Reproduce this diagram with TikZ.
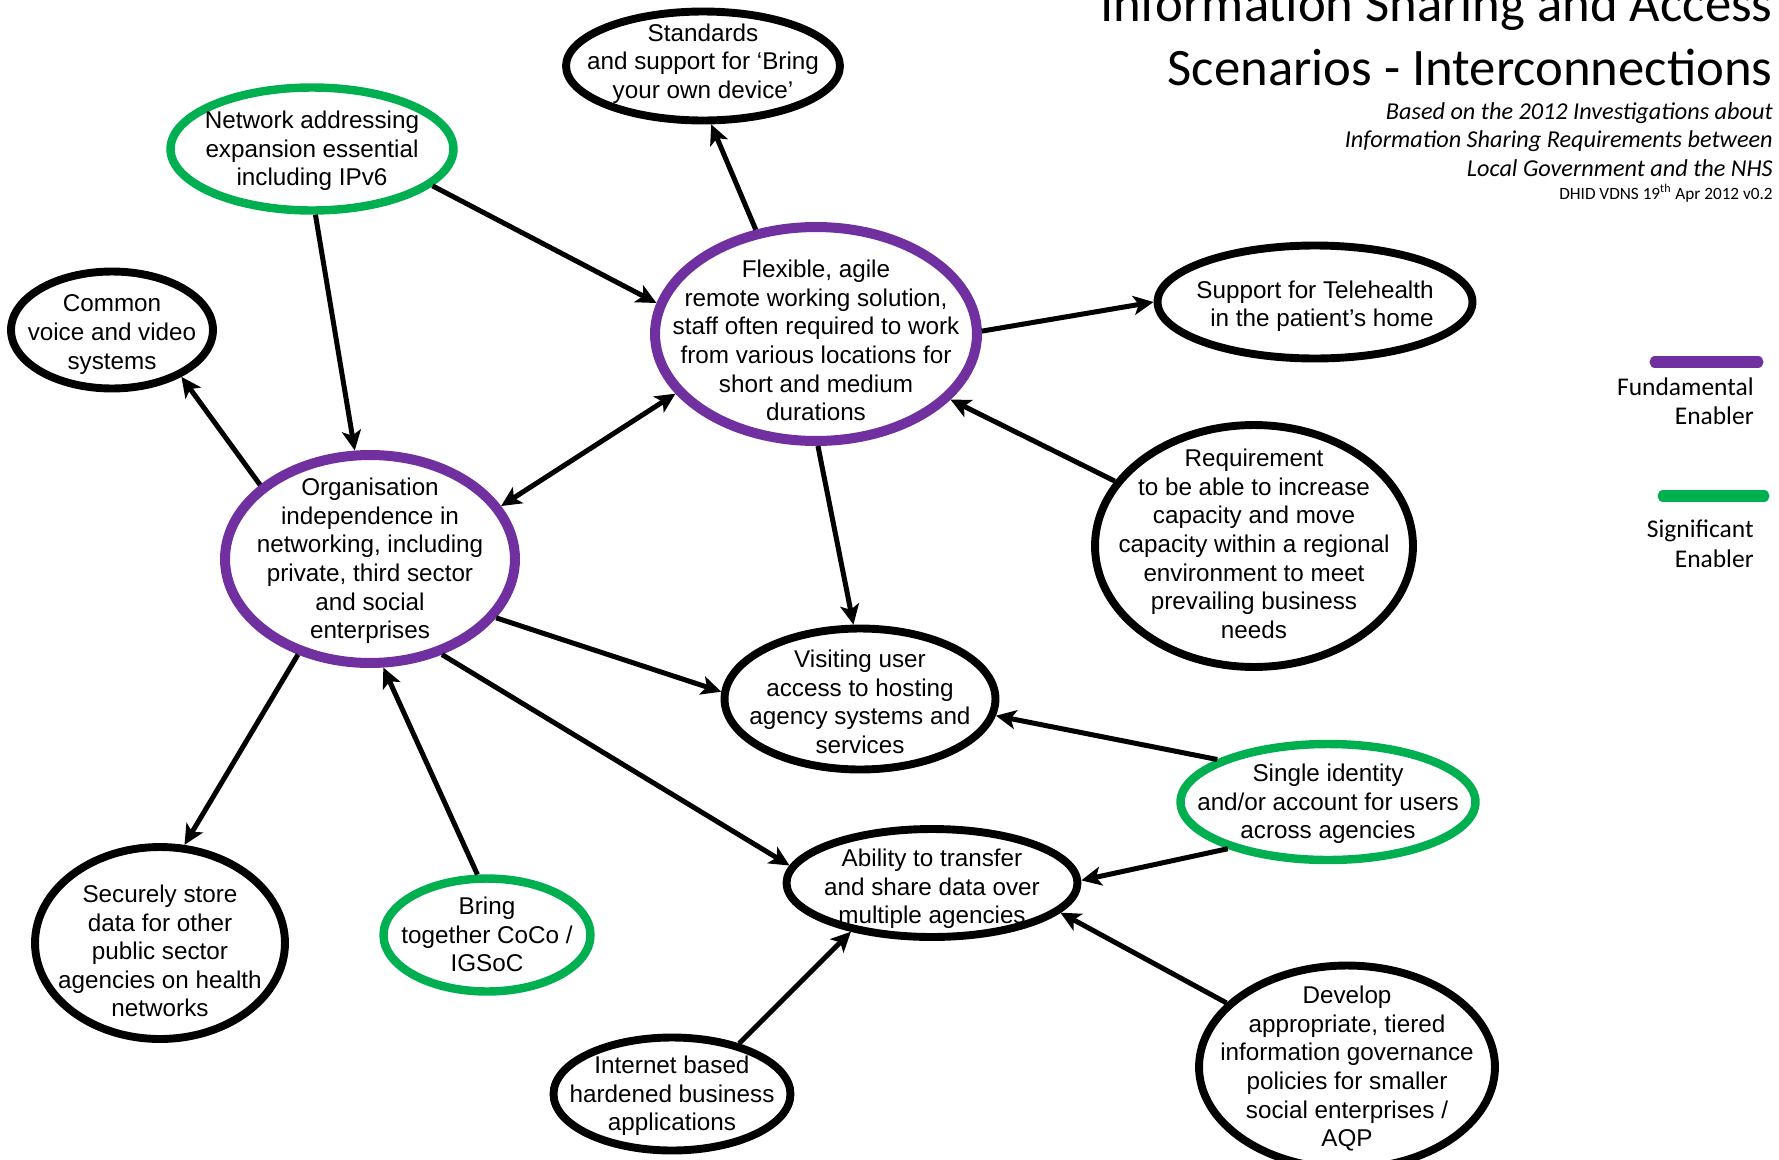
\documentclass[tikz,border=0pt]{standalone}
\usepackage{fontspec}
\setmainfont{Liberation Sans}
\newfontfamily\titlefont{Carlito}
\usepackage{xcolor}
\usetikzlibrary{shapes.geometric}
\usetikzlibrary{arrows.meta}
\definecolor{fundPurple}{HTML}{7030A0}
\definecolor{sigGreen}{HTML}{00B050}
\tikzstyle{nodeBlack}  =[ellipse, draw=black, line width=4.5pt, inner sep=0pt, font=\fontsize{13.8}{16.3}\selectfont]
\tikzstyle{nodePurple} =[nodeBlack, draw=fundPurple, line width=5.7pt]
\tikzstyle{nodeGreen}  =[nodeBlack, draw=sigGreen, line width=4.8pt]
\tikzstyle{edgeBlack}  =[line width=2.85pt, ->]
\tikzstyle{legendText} =[font=\titlefont\fontsize{14.5}{16.8}\selectfont, align=right, inner sep=0pt, anchor=north east]
% text of an ellipse, kept out of the size of the ellipse (optional: lower it a bit)
\newcommand{\ctext}[2][0pt]{\raisebox{\dimexpr-0.25em-1.6pt-#1\relax}[0pt][0pt]{\makebox[0pt]{\begin{tabular}{@{}c@{}}#2\end{tabular}}}}

\begin{document}
\begin{tikzpicture}[x=0.02cm, y=-0.02cm, >={Stealth[length=11.4pt, width=10.8pt, inset=2.8pt]}]
      \useasboundingbox (0,0) rectangle (1779,1160);
      % title
      \node[font=\titlefont\fontsize{30}{36.4}\selectfont, align=right, inner sep=0pt, anchor=north east] (title) at (1773,-15) {Information Sharing and Access\\Scenarios - Interconnections};
      \node[font=\titlefont\itshape\fontsize{13.8}{16.2}\selectfont, align=right, inner sep=0pt, anchor=north east] (sub) at (1773,102) {Based on the 2012 Investigations about\\Information Sharing Requirements between\\Local Government and the NHS};
      \node[font=\titlefont\fontsize{9.8}{12}\selectfont, inner sep=0pt, anchor=base east] (ver) at (1773,199) {DHID VDNS 19\textsuperscript{th} Apr 2012 v0.2};
      % legend
      \draw[fundPurple, line width=6.3pt, line cap=round] (1655,362) -- (1758,362);
      \node[legendText] (fund) at (1754,377) {Fundamental\\Enabler};
      \draw[sigGreen, line width=6.3pt, line cap=round] (1663,496) -- (1764,496);
      \node[legendText] (sig) at (1754,520) {Significant\\Enabler};
      % scenarios
      \node[nodeBlack]  (std)    [minimum width=5.48cm, minimum height=2.18cm] at (703,66)   {\ctext[-2.6pt]{Standards\\and support for ‘Bring\\your own device’}};
      \node[nodeGreen]  (net)    [minimum width=5.66cm, minimum height=2.46cm] at (312,149)  {\ctext{Network addressing\\expansion essential\\including IPv6}};
      \node[nodeBlack]  (com)    [minimum width=4.04cm, minimum height=2.34cm] at (112,330)  {\ctext[1.3pt]{Common\\voice and video\\systems}};
      \node[nodePurple] (flex)   [minimum width=6.44cm, minimum height=4.28cm] at (816,334)  {\ctext[3.9pt]{Flexible, agile\\remote working solution,\\staff often required to work\\from various locations for\\short and medium\\durations}};
      \node[nodeBlack]  (tele)   [minimum width=6.3cm,  minimum height=2.26cm] at (1315,302) {\ctext[1.3pt]{Support for Telehealth\\\hfill in the patient’s home}};
      \node[nodePurple] (org)    [minimum width=5.8cm,  minimum height=4.16cm] at (370,559)  {\ctext{Organisation\\independence in\\networking, including\\private, third sector\\and social\\enterprises}};
      \node[nodeBlack]  (req)    [minimum width=6.36cm, minimum height=4.84cm] at (1254,546) {\ctext[-1pt]{Requirement\\to be able to increase\\capacity and move\\capacity within a regional\\environment to meet\\prevailing business\\needs}};
      \node[nodeBlack]  (vis)    [minimum width=5.42cm, minimum height=2.82cm] at (860,699)  {\ctext[1.9pt]{Visiting user\\access to hosting\\agency systems and\\services}};
      \node[nodeGreen]  (single) [minimum width=5.9cm,  minimum height=2.32cm] at (1328,802) {\ctext{Single identity\\and/or account for users\\across agencies}};
      \node[nodeBlack]  (abil)   [minimum width=5.82cm, minimum height=2.16cm] at (932,883)  {\ctext[2.3pt]{Ability to transfer\\and share data over\\multiple agencies}};
      \node[nodeBlack]  (sec)    [minimum width=5cm,    minimum height=3.84cm] at (160,943)  {\ctext[4.8pt]{Securely store\\data for other\\public sector\\agencies on health\\networks}};
      \node[nodeGreen]  (bring)  [minimum width=4.14cm, minimum height=2.26cm] at (487,935)  {\ctext{Bring\\together CoCo /\\IGSoC}};
      \node[nodeBlack]  (inet)   [minimum width=4.74cm, minimum height=2.26cm] at (672,1094) {\ctext{Internet based\\hardened business\\applications}};
      \node[nodeBlack]  (dev)    [minimum width=5.92cm, minimum height=4.06cm] at (1347,1067) {\ctext{Develop\\appropriate, tiered\\information governance\\policies for smaller\\social enterprises /\\AQP}};
      % interconnections
      \draw[edgeBlack] (flex.120) -- (std.-82);
      \draw[edgeBlack] (net.-17) -- (flex.169);
      \draw[edgeBlack] (net.-87) -- (org.98);
      \draw[edgeBlack] (org.146) -- (com.-34);
      \draw[edgeBlack, <->] (flex.203) -- (org.22);
      \draw[edgeBlack] (flex.1) -- (tele.180);
      \draw[edgeBlack] (req.155) -- (flex.-26);
      \draw[edgeBlack] (flex.-89) -- (vis.95);
      \draw[edgeBlack] (org.-25) -- (vis.177);
      \draw[edgeBlack] (org.-53) -- (abil.173);
      \draw[edgeBlack] (org.-127) -- (sec.76);
      \draw[edgeBlack] (bring.99) -- (org.-83);
      \draw[edgeBlack] (single.159) -- (vis.-7);
      \draw[edgeBlack] (single.205) -- (abil.1);
      \draw[edgeBlack] (dev.152) -- (abil.-13);
      \draw[edgeBlack] (inet.37) -- (abil.-149);
    \end{tikzpicture}
\end{document}
